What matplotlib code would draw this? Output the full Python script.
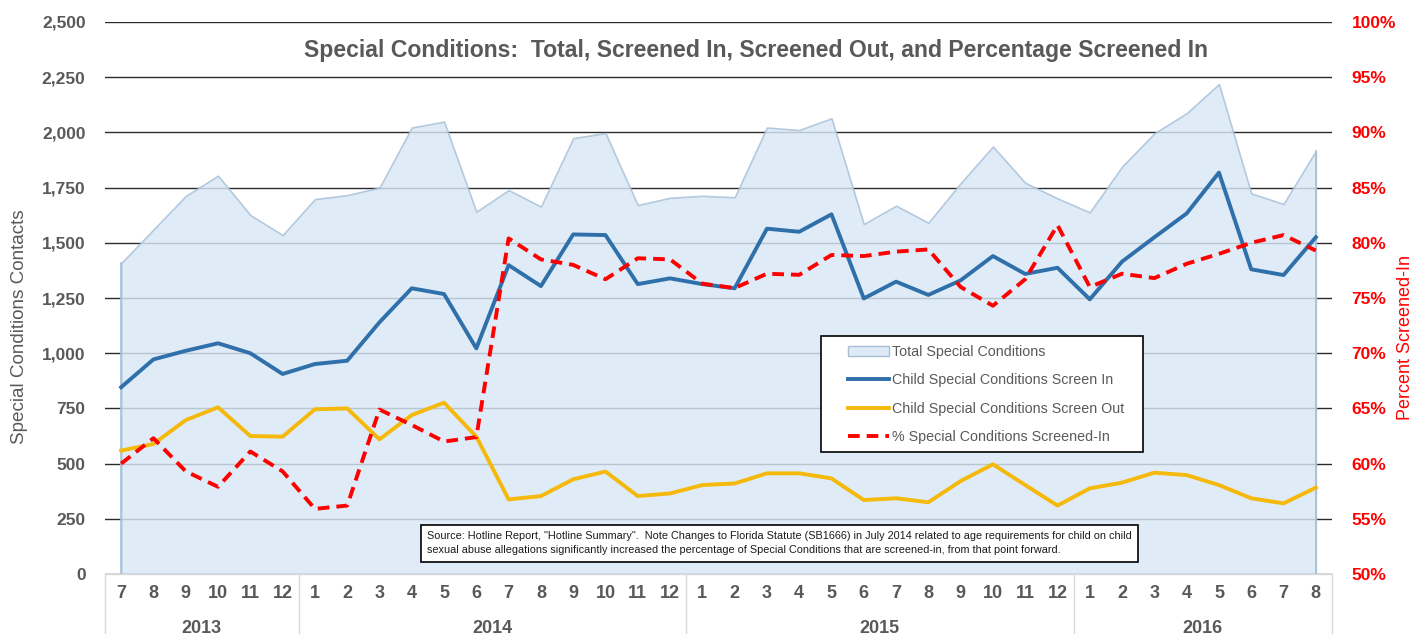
import matplotlib.pyplot as plt
import matplotlib.transforms as mtransforms
from matplotlib.patches import Patch, Rectangle
from matplotlib.lines import Line2D
import numpy as np

plt.rcParams['font.family'] = ['Liberation Sans', 'DejaVu Sans']

# month labels, grouped by year
months = ['7', '8', '9', '10', '11', '12',
          '1', '2', '3', '4', '5', '6', '7', '8', '9', '10', '11', '12',
          '1', '2', '3', '4', '5', '6', '7', '8', '9', '10', '11', '12',
          '1', '2', '3', '4', '5', '6', '7', '8']
years = ['2013', '2014', '2015', '2016']
months_per_year = [6, 12, 12, 8]

total = [1408, 1560, 1712, 1804, 1626, 1535,
         1698, 1716, 1750, 2022, 2049, 1641, 1739, 1664, 1974, 1997, 1671, 1704,
         1713, 1706, 2022, 2011, 2064, 1585, 1668, 1591, 1770, 1936, 1772, 1701,
         1638, 1845, 1996, 2087, 2219, 1724, 1676, 1916]
screen_in = [846, 972, 1011, 1045, 1000, 906,
             951, 966, 1140, 1294, 1268, 1022, 1399, 1304, 1538, 1535, 1313, 1339,
             1313, 1294, 1564, 1550, 1629, 1248, 1324, 1264, 1330, 1440, 1359, 1387,
             1244, 1415, 1525, 1633, 1818, 1380, 1354, 1525]
screen_out = [559, 589, 697, 755, 625, 622,
              746, 750, 610, 720, 776, 622, 338, 353, 429, 464, 353, 365,
              403, 410, 456, 456, 433, 335, 343, 325, 421, 497, 403, 310,
              388, 414, 459, 448, 403, 343, 320, 391]
pct_in = [60.0, 62.3, 59.3, 57.9, 61.1, 59.3,
          55.9, 56.2, 64.9, 63.5, 62.0, 62.4, 80.4, 78.5, 78.0, 76.7, 78.6, 78.5,
          76.3, 75.9, 77.2, 77.1, 78.9, 78.8, 79.2, 79.4, 76.0, 74.3, 76.7, 81.6,
          76.0, 77.2, 76.8, 78.1, 79.0, 80.0, 80.7, 79.3]

x = np.arange(len(months))
gray = '#595959'

fig = plt.figure(figsize=(14.25, 6.34), dpi=100)
ax = fig.add_axes([0.0737, 0.0946, 0.861, 0.8707])
ax2 = ax.twinx()

# gridlines under a semi-transparent area
ax.set_axisbelow(True)
ax.yaxis.grid(True, color='#2b2b2b', lw=1.0, zorder=0)
ax.fill_between(x, total, 0, facecolor='#d8e7f6', edgecolor='#a7c0d8',
                lw=1.2, alpha=0.82, zorder=1)
ax.plot([x[0], x[0]], [0, total[0]], color='#a7c0d8', lw=1.2, zorder=1)
ax.plot([x[-1], x[-1]], [0, total[-1]], color='#a7c0d8', lw=1.2, zorder=1)
ax.plot(x, screen_in, color='#2f6faa', lw=2.8, zorder=3)
ax.plot(x, screen_out, color='#f5b90c', lw=2.8, zorder=3)
ax2.plot(x, pct_in, color='#ff0000', lw=2.8, ls=(0, (3, 1.8)), zorder=3)

ax.set_xlim(-0.5, len(months) - 0.5)
ax.set_ylim(0, 2500)
ax.set_yticks(np.arange(0, 2501, 250))
ax.set_yticklabels([f'{v:,}' for v in range(0, 2501, 250)])
ax2.set_ylim(50, 100)
ax2.set_yticks(np.arange(50, 101, 5))
ax2.set_yticklabels([f'{v}%' for v in range(50, 101, 5)])

for a in (ax, ax2):
    for s in a.spines.values():
        s.set_visible(False)
ax.tick_params(axis='y', length=0, pad=14, labelsize=12.5, labelcolor=gray)
ax2.tick_params(axis='y', length=0, pad=14, labelsize=12.5, labelcolor='#ff0000')
for t in ax.get_yticklabels():
    t.set_fontweight('bold')
for t in ax2.get_yticklabels():
    t.set_fontweight('bold')

ax.set_xticks(x)
ax.set_xticklabels(months, fontsize=13, fontweight='bold', color=gray)
ax.tick_params(axis='x', length=0, pad=8)

# multi-level category axis frame
trans = mtransforms.blended_transform_factory(ax.transData, ax.transAxes)
bounds = np.concatenate([[0], np.cumsum(months_per_year)]) - 0.5
ax.plot([bounds[0], bounds[-1]], [0, 0], transform=trans, color='#d9d9d9',
        lw=1, clip_on=False)
for b in bounds:
    ax.plot([b, b], [0, -0.12], transform=trans, color='#d9d9d9', lw=1,
            clip_on=False)
for i, yr in enumerate(years):
    ax.text((bounds[i] + bounds[i + 1]) / 2, -0.098, yr, transform=trans,
            ha='center', va='center', fontsize=13, fontweight='bold', color=gray)

fig.text(0.5305, 0.921, 'Special Conditions:  Total, Screened In, Screened Out, and Percentage Screened In',
         ha='center', va='center', fontsize=16.6, fontweight='bold', color=gray)
fig.text(0.014, 0.484, 'Special Conditions Contacts', rotation=90, ha='center',
         va='center', fontsize=13.6, color=gray)
fig.text(0.986, 0.467, 'Percent Screened-In', rotation=90, ha='center',
         va='center', fontsize=13, color='#ff0000')

# legend: box drawn separately, entries placed inside it
ax2.add_patch(Rectangle((0.5835, 0.221), 0.2625, 0.21, transform=ax2.transAxes,
                        facecolor='white', edgecolor='black', lw=1.2, zorder=6))
handles = [Patch(facecolor='#deebf7', edgecolor='#a7c0d8', lw=1),
           Line2D([], [], color='#2f6faa', lw=2.8),
           Line2D([], [], color='#f5b90c', lw=2.8),
           Line2D([], [], color='#ff0000', lw=2.8, ls=(0, (3, 1.8)))]
labels = ['Total Special Conditions', 'Child Special Conditions Screen In',
          'Child Special Conditions Screen Out', '% Special Conditions Screened-In']
leg = ax2.legend(handles, labels, loc='upper left', bbox_to_anchor=(0.6055, 0.415),
                 fontsize=10.3, frameon=False, borderpad=0, borderaxespad=0,
                 labelspacing=1.0, handlelength=2.9, handletextpad=0.15)
leg.set_zorder(7)
for t in leg.get_texts():
    t.set_color(gray)

note = ('Source: Hotline Report, "Hotline Summary".  Note Changes to Florida Statute (SB1666) in July 2014 related to age requirements for child on child\n'
        'sexual abuse allegations significantly increased the percentage of Special Conditions that are screened-in, from that point forward.')
ax2.text(0.2625, 0.056, note, transform=ax.transAxes, ha='left', va='center',
         fontsize=7.8, color='#1a1a1a', linespacing=1.5, zorder=5,
         bbox=dict(boxstyle='square,pad=0.6', facecolor='white', edgecolor='black', lw=1.2))

fig.savefig('out.png', dpi=100)
